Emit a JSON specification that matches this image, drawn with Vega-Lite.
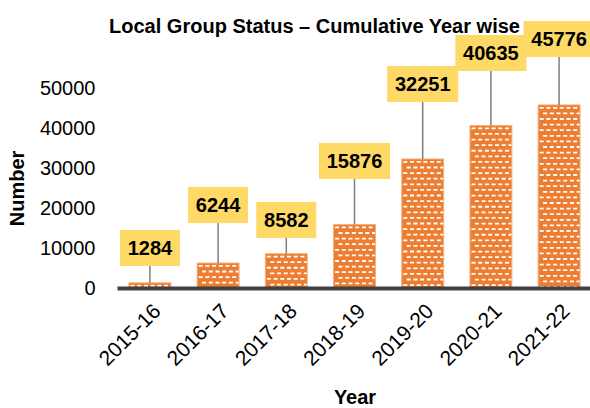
{
  "$schema": "https://vega.github.io/schema/vega-lite/v6.json",
  "autosize": "none",
  "width": 475,
  "height": 200,
  "padding": {"left": 117, "top": 88, "right": 0, "bottom": 120},
  "background": "white",
  "config": {
    "view": {"stroke": null},
    "font": "Liberation Sans",
    "axis": {"grid": false, "labelFont": "Liberation Sans", "titleFont": "Liberation Sans", "labelColor": "#000000", "titleColor": "#000000"},
    "axisY": {"labelOverlap": false, "labelBound": false, "labelFlush": false}
  },
  "title": {
    "text": "Local Group Status – Cumulative Year wise",
    "font": "Liberation Sans",
    "fontSize": 20,
    "fontWeight": "bold",
    "color": "#000000",
    "anchor": "middle",
    "frame": "group",
    "dx": -40,
    "offset": -16
  },
  "data": {
    "values": [
      {"year": "2015-16", "value": 1284, "callout": 10000},
      {"year": "2016-17", "value": 6244, "callout": 20750},
      {"year": "2017-18", "value": 8582, "callout": 17000},
      {"year": "2018-19", "value": 15876, "callout": 31750},
      {"year": "2019-20", "value": 32251, "callout": 51000},
      {"year": "2020-21", "value": 40635, "callout": 58750},
      {"year": "2021-22", "value": 45776, "callout": 62250}
    ]
  },
  "encoding": {
    "x": {
      "field": "year",
      "type": "nominal",
      "sort": null,
      "scale": {"paddingInner": 0.385, "paddingOuter": 0.175},
      "axis": {
        "title": "Year",
        "titleFontSize": 20,
        "titleFontWeight": "bold",
        "titlePadding": 18,
        "labelAngle": -45,
        "labelFontSize": 21,
        "labelPadding": 12,
        "ticks": false,
        "tickSize": 0,
        "domainColor": "#404040",
        "domainWidth": 4,
        "zindex": 1
      }
    }
  },
  "layer": [
    {
      "mark": {"type": "bar", "color": "#ED7D31", "stroke": "#F4B183", "strokeWidth": 1},
      "encoding": {
        "y": {
          "field": "value",
          "type": "quantitative",
          "scale": {"domain": [0, 50000], "nice": false},
          "axis": {
            "title": "Number",
            "titleFontSize": 20,
            "titleFontWeight": "bold",
            "titlePadding": 12,
            "labelFontSize": 20,
            "labelPadding": 22,
            "labelOverlap": false,
            "ticks": false,
            "tickSize": 0,
            "domain": false,
            "tickCount": 10,
            "values": [0, 10000, 20000, 30000, 40000, 50000],
            "format": "d"
          }
        }
      }
    },
    {"mark": {"type": "rule", "color": "white", "strokeWidth": 4, "strokeDash": [1.8, 9.4], "strokeDashOffset": 9.2, "xOffset": -17.4, "strokeCap": "butt"}, "encoding": {"y": {"field": "value", "type": "quantitative"}, "y2": {"datum": 0}}},
    {"mark": {"type": "rule", "color": "white", "strokeWidth": 4, "strokeDash": [1.8, 9.4], "strokeDashOffset": 9.2, "xOffset": -10.7, "strokeCap": "butt"}, "encoding": {"y": {"field": "value", "type": "quantitative"}, "y2": {"datum": 0}}},
    {"mark": {"type": "rule", "color": "white", "strokeWidth": 4, "strokeDash": [1.8, 9.4], "strokeDashOffset": 9.2, "xOffset": -4.0, "strokeCap": "butt"}, "encoding": {"y": {"field": "value", "type": "quantitative"}, "y2": {"datum": 0}}},
    {"mark": {"type": "rule", "color": "white", "strokeWidth": 4, "strokeDash": [1.8, 9.4], "strokeDashOffset": 9.2, "xOffset": 2.7, "strokeCap": "butt"}, "encoding": {"y": {"field": "value", "type": "quantitative"}, "y2": {"datum": 0}}},
    {"mark": {"type": "rule", "color": "white", "strokeWidth": 4, "strokeDash": [1.8, 9.4], "strokeDashOffset": 9.2, "xOffset": 9.4, "strokeCap": "butt"}, "encoding": {"y": {"field": "value", "type": "quantitative"}, "y2": {"datum": 0}}},
    {"mark": {"type": "rule", "color": "white", "strokeWidth": 4, "strokeDash": [1.8, 9.4], "strokeDashOffset": 9.2, "xOffset": 16.1, "strokeCap": "butt"}, "encoding": {"y": {"field": "value", "type": "quantitative"}, "y2": {"datum": 0}}},
    {"mark": {"type": "rule", "color": "white", "strokeWidth": 4, "strokeDash": [1.8, 9.4], "strokeDashOffset": 3.6, "xOffset": -14.0, "strokeCap": "butt"}, "encoding": {"y": {"field": "value", "type": "quantitative"}, "y2": {"datum": 0}}},
    {"mark": {"type": "rule", "color": "white", "strokeWidth": 4, "strokeDash": [1.8, 9.4], "strokeDashOffset": 3.6, "xOffset": -7.3, "strokeCap": "butt"}, "encoding": {"y": {"field": "value", "type": "quantitative"}, "y2": {"datum": 0}}},
    {"mark": {"type": "rule", "color": "white", "strokeWidth": 4, "strokeDash": [1.8, 9.4], "strokeDashOffset": 3.6, "xOffset": -0.6, "strokeCap": "butt"}, "encoding": {"y": {"field": "value", "type": "quantitative"}, "y2": {"datum": 0}}},
    {"mark": {"type": "rule", "color": "white", "strokeWidth": 4, "strokeDash": [1.8, 9.4], "strokeDashOffset": 3.6, "xOffset": 6.1, "strokeCap": "butt"}, "encoding": {"y": {"field": "value", "type": "quantitative"}, "y2": {"datum": 0}}},
    {"mark": {"type": "rule", "color": "white", "strokeWidth": 4, "strokeDash": [1.8, 9.4], "strokeDashOffset": 3.6, "xOffset": 12.8, "strokeCap": "butt"}, "encoding": {"y": {"field": "value", "type": "quantitative"}, "y2": {"datum": 0}}},
    {"mark": {"type": "rule", "color": "white", "strokeWidth": 3, "strokeDash": [1.8, 9.4], "strokeDashOffset": 3.6, "xOffset": 19.0, "strokeCap": "butt"}, "encoding": {"y": {"field": "value", "type": "quantitative"}, "y2": {"datum": 0}}},
    {
      "mark": {"type": "rule", "color": "#7F7F7F", "strokeWidth": 1.5},
      "encoding": {"y": {"field": "value", "type": "quantitative"}, "y2": {"field": "callout"}}
    },
    {
      "mark": {"type": "point", "filled": true, "color": "#FFD966", "opacity": 1, "strokeWidth": 0},
      "encoding": {
        "y": {"field": "callout", "type": "quantitative"},
        "shape": {"condition": {"test": "datum.value >= 10000", "value": "M-1,-0.507H1V0.507H-1Z"}, "value": "M-1,-0.6H1V0.6H-1Z"},
        "size": {"condition": {"test": "datum.value >= 10000", "value": 5041}, "value": 3600}
      }
    },
    {
      "mark": {"type": "text", "font": "Liberation Sans", "fontSize": 20, "fontWeight": "bold", "color": "#000000", "baseline": "middle", "align": "center", "dy": 1},
      "encoding": {
        "y": {"field": "callout", "type": "quantitative"},
        "text": {"field": "value", "type": "quantitative", "format": "d"}
      }
    }
  ]
}
